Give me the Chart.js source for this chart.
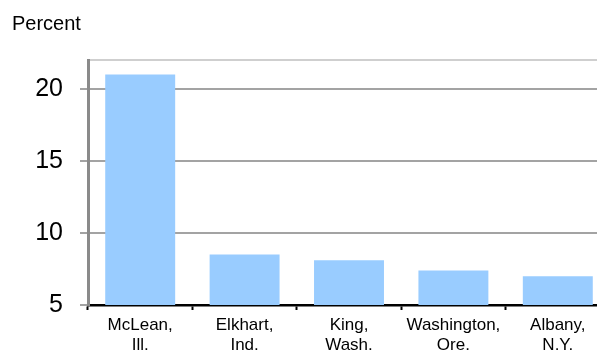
<!DOCTYPE html>
<html>
<head>
<meta charset="utf-8">
<script src="https://cdn.jsdelivr.net/npm/chart.js@4/dist/chart.umd.min.js"></script>
<style>
html,body{margin:0;padding:0;background:#fff;overflow:hidden;width:597px;height:351px;}
canvas{display:block;}
</style>
</head>
<body>
<canvas id="c" width="610" height="351" style="width:610px;height:351px"></canvas>
<script>
const categories = [["McLean,","Ill."],["Elkhart,","Ind."],["King,","Wash."],["Washington,","Ore."],["Albany,","N.Y."]];
const values = [21.0, 8.5, 8.1, 7.4, 7.0];
const yTicks = [5, 10, 15, 20, 22];
const yMin = 5, yMax = 22;
const FONT = "'Liberation Sans', Arial, sans-serif";

const percentLabel = {
  id: 'percentLabel',
  afterDraw(chart) {
    const ctx = chart.ctx;
    ctx.save();
    ctx.font = "20px " + FONT;
    ctx.fillStyle = '#000';
    ctx.textBaseline = 'alphabetic';
    ctx.textAlign = 'left';
    ctx.fillText('Percent', 12, 30);
    ctx.restore();
  }
};

new Chart(document.getElementById('c'), {
  type: 'bar',
  data: {
    labels: categories,
    datasets: [{
      data: values,
      backgroundColor: '#99ccff',
      borderWidth: 0,
      categoryPercentage: 1,
      barPercentage: 0.67
    }]
  },
  options: {
    responsive: false,
    animation: false,
    layout: { padding: { left: 0, right: 0, top: 60, bottom: 0 } },
    plugins: { legend: { display: false }, tooltip: { enabled: false }, title: { display: false } },
    scales: {
      x: {
        offset: true,
        grid: { offset: true, drawOnChartArea: false, drawTicks: true, tickLength: 5, tickColor: '#000', tickWidth: 2 },
        border: { display: true, color: '#000', width: 2.5 },
        ticks: { color: '#000', font: { family: FONT, size: 17 }, padding: 5, maxRotation: 0, autoSkip: false },
        afterFit(s) { s.height = 46; }
      },
      y: {
        min: yMin, max: yMax,
        afterBuildTicks(s) { s.ticks = yTicks.map(v => ({ value: v })); },
        grid: {
          drawTicks: true, tickLength: 8,
          color: ctx => ctx.tick && ctx.tick.value === 22 ? '#cfcfcf' : (ctx.tick && ctx.tick.value === 5 ? 'rgba(0,0,0,0)' : '#a3a3a3'),
          tickColor: ctx => ctx.tick && ctx.tick.value === 22 ? 'rgba(0,0,0,0)' : '#a3a3a3',
          lineWidth: 2, tickWidth: 2
        },
        border: { display: true, color: '#8a8a8a', width: 3 },
        ticks: {
          color: '#000', font: { family: FONT, size: 25 }, padding: 17,
          callback: v => v === 22 ? '' : String(v)
        },
        afterFit(s) { s.width = 88; }
      }
    }
  },
  plugins: [percentLabel]
});
</script>
</body>
</html>
